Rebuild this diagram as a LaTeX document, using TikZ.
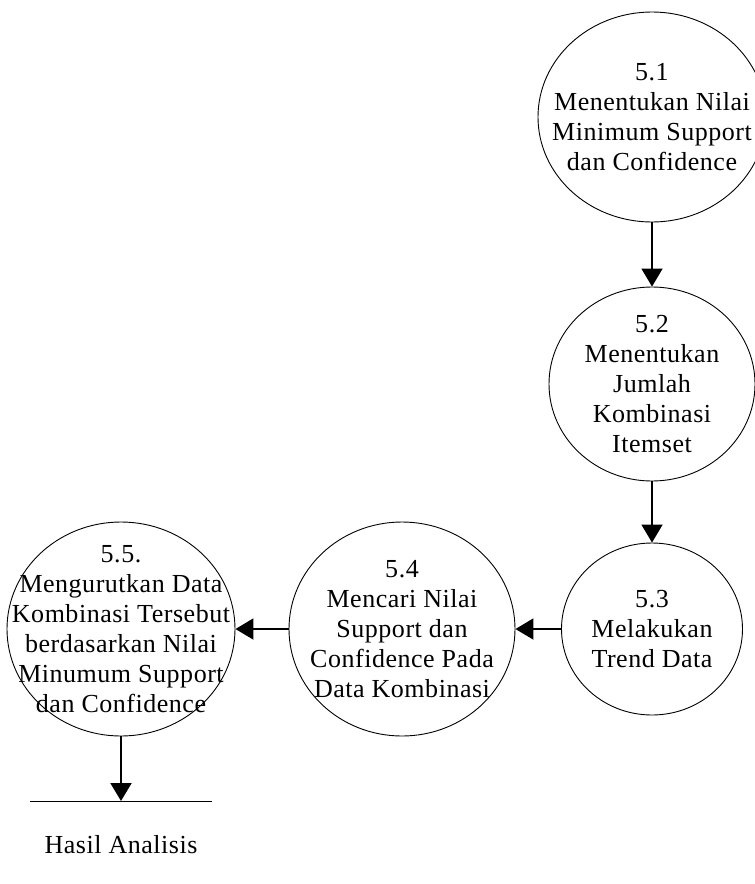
\documentclass[tikz,border=0pt]{standalone}
\usepackage{fontspec}
\setmainfont[LetterSpace=2]{Liberation Serif}
\usetikzlibrary{shapes.geometric,arrows.meta}
\begin{document}
\begin{tikzpicture}[x=1pt,y=-1pt,
  proc/.style={draw, ellipse, line width=0.9pt, inner sep=0pt},
  txt/.style={align=center, font=\fontsize{26}{30}\selectfont, inner sep=0pt},
  flow/.style={line width=2pt, -{Triangle[length=18pt,width=21pt]}},
  storeline/.style={line width=0.9pt},
]
\clip (0,0) rectangle (755,884);
\useasboundingbox (0,0) rectangle (755,884);

% processes
\node[proc, minimum width=228pt, minimum height=210pt] (p1) at (652,117) {};
\node[txt] (t1) at (p1.center) {5.1\\Menentukan Nilai\\Minimum Support\\dan Confidence};

\node[proc, minimum width=206pt, minimum height=194pt] (p2) at (652,384) {};
\node[txt] (t2) at (p2.center) {5.2\\Menentukan\\Jumlah\\Kombinasi\\Itemset};

\node[proc, minimum width=181pt, minimum height=172pt] (p3) at (652,629) {};
\node[txt] (t3) at (p3.center) {5.3\\Melakukan\\Trend Data};

\node[proc, minimum width=226pt, minimum height=214pt] (p4) at (402,629) {};
\node[txt] (t4) at (p4.center) {5.4\\Mencari Nilai\\Support dan\\Confidence Pada\\Data Kombinasi};

\node[proc, minimum width=228pt, minimum height=214pt] (p5) at (121,629) {};
\node[txt] (t5) at (p5.center) {5.5.\\Mengurutkan Data\\Kombinasi Tersebut\\berdasarkan Nilai\\Minumum Support\\dan Confidence};

% data store
\node[inner sep=0pt, minimum width=182pt, minimum height=0pt] (store) at (121,801) {};
\draw[storeline] (store.west) -- (store.east);
\node[txt, anchor=base] (hasil) at (121,853) {Hasil Analisis};

% flows
\draw[flow] (p1.south) -- (p2.north);
\draw[flow] (p2.south) -- (p3.north);
\draw[flow] (p3.west) -- (p4.east);
\draw[flow] (p4.west) -- (p5.east);
\draw[flow] (p5.south) -- (store.center);
\end{tikzpicture}
\end{document}
